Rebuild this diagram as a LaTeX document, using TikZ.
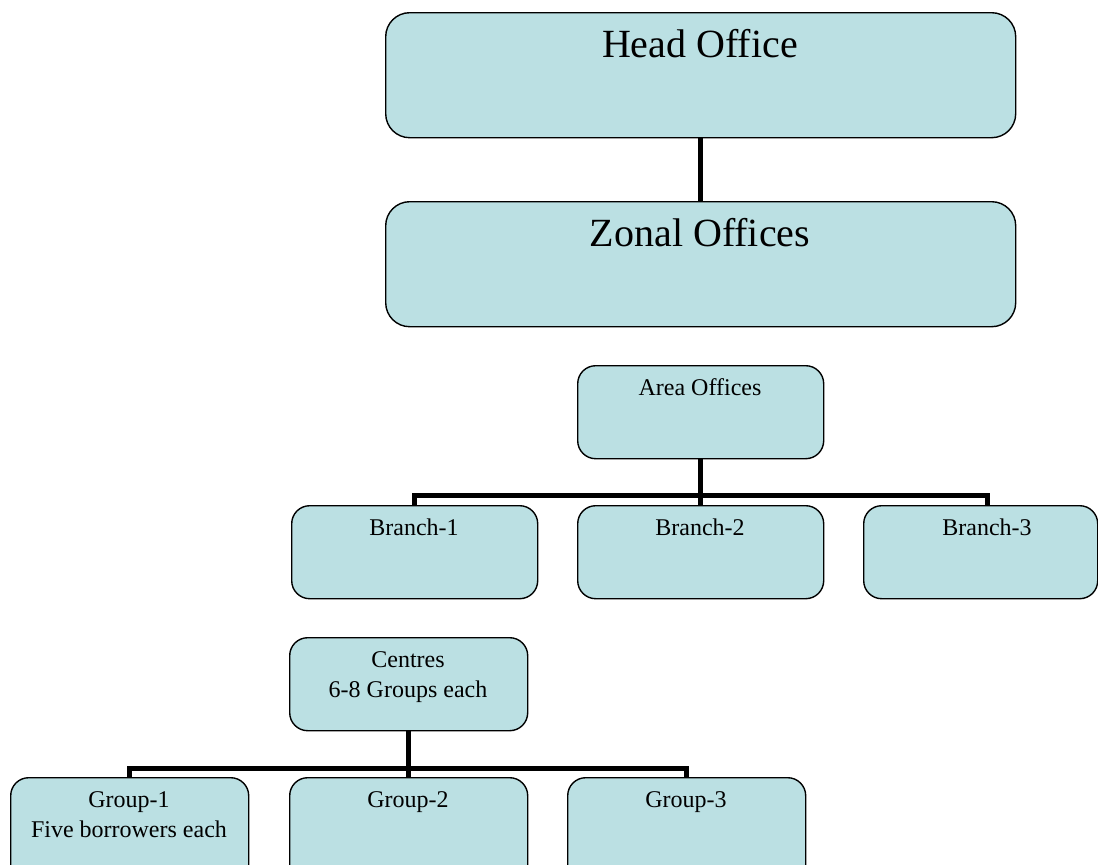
\documentclass[tikz,border=0pt]{standalone}
\usepackage{fontspec}
\setmainfont{Liberation Serif}
\definecolor{boxfill}{HTML}{BBE0E3}
\begin{document}
\begin{tikzpicture}[x=1pt,y=-1pt,
  box/.style={draw=black,line width=1.4pt,fill=boxfill,rounded corners=#1,inner sep=0pt,anchor=north west},
  big/.style={font=\fontsize{40}{44}\selectfont,anchor=base,inner sep=0pt},
  small/.style={font=\fontsize{24}{30}\selectfont,anchor=base,inner sep=0pt,align=center},
  conn/.style={line width=5pt,line cap=butt,draw=black}]
\useasboundingbox (0,0) rectangle (1098,865);
\clip (0,0) rectangle (1098,865);
% boxes
\node[box=24pt,minimum width=630pt,minimum height=125pt] (head) at (385,12) {};
\node[box=24pt,minimum width=630pt,minimum height=125pt] (zonal) at (385,201) {};
\node[box=18pt,minimum width=246pt,minimum height=93pt] (area) at (577,365) {};
\node[box=18pt,minimum width=246pt,minimum height=93pt] (b1) at (291,505) {};
\node[box=18pt,minimum width=246pt,minimum height=93pt] (b2) at (577,505) {};
\node[box=18pt,minimum width=234pt,minimum height=93pt] (b3) at (863,505) {};
\node[box=18pt,minimum width=238pt,minimum height=93pt] (cen) at (289,637) {};
\node[box=18pt,minimum width=238pt,minimum height=110pt] (g1) at (10,777) {};
\node[box=18pt,minimum width=238pt,minimum height=110pt] (g2) at (289,777) {};
\node[box=18pt,minimum width=238pt,minimum height=110pt] (g3) at (567,777) {};
% texts
\node[big] (headt) at (700,57) {Head Office};
\node[big] (zonalt) at (700,246) {Zonal Offices};
\node[small] (areat) at (700,395) {Area Offices};
\node[small] (b1t) at (414,535) {Branch-1};
\node[small] (b2t) at (700,535) {Branch-2};
\node[small] (b3t) at (987,535) {Branch-3};
\node[small] (cent) at (408,697) {Centres\\6-8 Groups each};
\node[small] (g1t) at (129,837) {Group-1\\Five borrowers each};
\node[small] (g2t) at (408,807) {Group-2};
\node[small] (g3t) at (686,807) {Group-3};
% connectors
\coordinate (b3drop) at (987,505);
\draw[conn] (head.south) -- (zonal.north);
\draw[conn] (area.south) -- (b2.north);
\draw[conn] (b1.north) -- ++(0,-10) -| (b3drop);
\draw[conn] (cen.south) -- (g2.north);
\draw[conn] (g1.north) -- ++(0,-9) -| (g3.north);
\end{tikzpicture}
\end{document}
